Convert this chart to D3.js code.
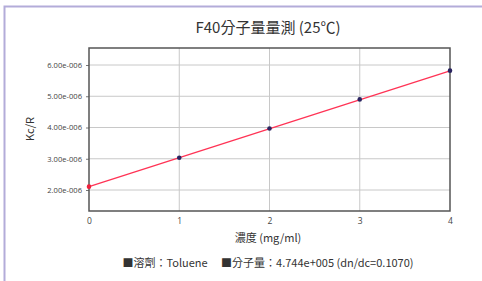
<!DOCTYPE html>
<html><head><meta charset="utf-8">
<script src="https://cdn.jsdelivr.net/npm/d3@7"></script>
<style>body{margin:0;background:#fff;}svg{display:block;font-family:"Noto Sans CJK TC","Noto Sans",sans-serif;}</style>
</head><body>
<script>
const title = "F40分子量量測 (25℃)";
const xLabel = "濃度 (mg/ml)";
const yLabel = "Kc/R";
const legendText = "■溶劑：Toluene　 ■分子量：4.744e+005 (dn/dc=0.1070)";
const concentrations = [1, 2, 3, 4];
const kcr = [3.03e-6, 3.97e-6, 4.90e-6, 5.82e-6];
const fitX = [0, 4];
const fitY = [2.108e-6, 5.815e-6];
const xTicks = [0, 1, 2, 3, 4];
const yTicks = [2e-6, 3e-6, 4e-6, 5e-6, 6e-6];
const yTickLabels = ["2.00e-006", "3.00e-006", "4.00e-006", "5.00e-006", "6.00e-006"];

const W = 482, H = 281;
const svg = d3.select("body").append("svg").attr("width", W).attr("height", H);
svg.append("rect").attr("x", 4.5).attr("y", 6.5).attr("width", W + 10).attr("height", H + 10)
  .attr("fill", "none").attr("stroke", "#b3acd9").attr("stroke-width", 2);

const L = 89, R = 450, T = 48, B = 211;
const x = d3.scaleLinear().domain([0, 4]).range([L, R]);
const y = d3.scaleLinear().domain([1.328e-6, 6.544e-6]).range([B, T]);

const g = svg.append("g");
g.selectAll(".gx").data(xTicks.slice(1, -1)).enter().append("line")
  .attr("x1", d => x(d)).attr("x2", d => x(d)).attr("y1", T).attr("y2", B)
  .attr("stroke", "#c8c8c8").attr("stroke-width", 1);
g.selectAll(".gy").data(yTicks).enter().append("line")
  .attr("x1", L).attr("x2", R).attr("y1", d => y(d)).attr("y2", d => y(d))
  .attr("stroke", "#c8c8c8").attr("stroke-width", 1);

const yAxis = d3.axisLeft(y).tickValues(yTicks).tickSize(3).tickPadding(4)
  .tickFormat((d, i) => yTickLabels[i]);
const ya = svg.append("g").attr("transform", `translate(${L},0)`).call(yAxis);
ya.select(".domain").remove();
ya.selectAll("line").attr("stroke", "#777");
ya.selectAll("text").attr("font-size", 7.6).attr("fill", "#444").attr("font-family", "Open Sans, sans-serif");

const xAxis = d3.axisBottom(x).tickValues(xTicks).tickSize(0).tickPadding(7).tickFormat(d3.format("d"));
const xa = svg.append("g").attr("transform", `translate(0,${B})`).call(xAxis);
xa.select(".domain").remove();
xa.selectAll("text").attr("font-size", 8.5).attr("fill", "#444").attr("font-family", "Open Sans, sans-serif");

svg.append("rect").attr("x", L).attr("y", T).attr("width", R - L).attr("height", B - T)
  .attr("fill", "none").attr("stroke", "#555").attr("stroke-width", 1.5);

const line = d3.line().x(d => x(d[0])).y(d => y(d[1]));
svg.append("path").datum(fitX.map((v, i) => [v, fitY[i]])).attr("d", line)
  .attr("fill", "none").attr("stroke", "#ff3355").attr("stroke-width", 1.3);
svg.append("circle").attr("cx", x(fitX[0])).attr("cy", y(fitY[0])).attr("r", 2.3).attr("fill", "#f0203c");
svg.selectAll(".pt").data(concentrations).enter().append("circle")
  .attr("cx", d => x(d)).attr("cy", (d, i) => y(kcr[i])).attr("r", 2.3).attr("fill", "#2a2460");

svg.append("text").attr("x", 268).attr("y", 33).attr("text-anchor", "middle")
  .attr("font-size", 15).attr("fill", "#333").text(title);
svg.append("text").attr("transform", "translate(34,129) rotate(-90)").attr("text-anchor", "middle")
  .attr("font-size", 11).attr("fill", "#333").text(yLabel);
svg.append("text").attr("x", 268).attr("y", 242).attr("text-anchor", "middle")
  .attr("font-size", 11).attr("fill", "#333").text(xLabel);
svg.append("text").attr("x", 268).attr("y", 267).attr("text-anchor", "middle")
  .attr("font-size", 11).attr("fill", "#333").text(legendText);
</script>
</body></html>
